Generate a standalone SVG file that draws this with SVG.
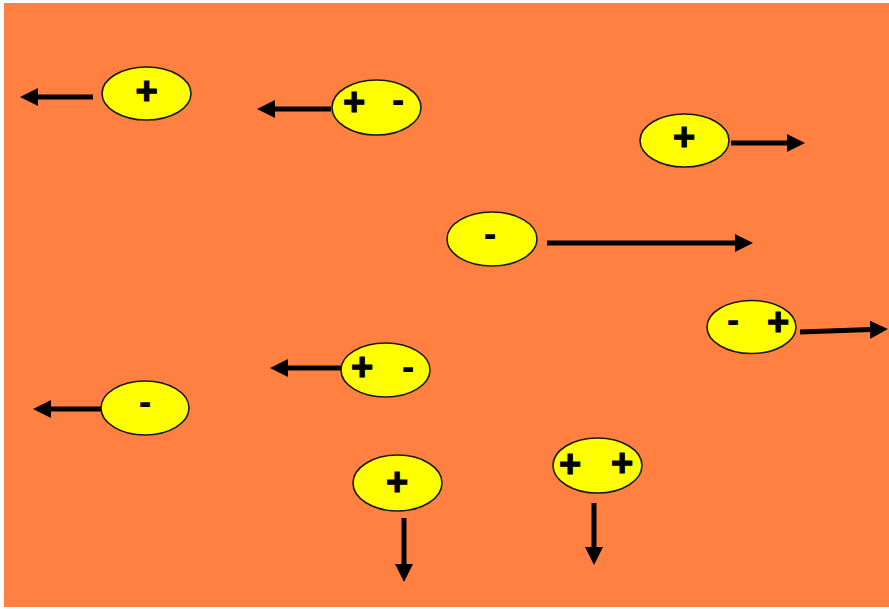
<svg xmlns="http://www.w3.org/2000/svg" width="889" height="609" viewBox="0 0 889 609">
  <defs>
    <marker id="head" markerUnits="userSpaceOnUse" markerWidth="19" markerHeight="19" refX="1" refY="9" orient="auto">
      <path d="M0,0 L18,9 L0,18 z" fill="#000"/>
    </marker>
    <style>
      .particle ellipse { fill: #FFFF00; stroke: #1a1a1a; stroke-width: 1.6; }
      .particle text { font-family: "Liberation Sans", Arial, sans-serif; font-weight: bold; font-size: 38px; fill: #000; text-anchor: middle; }
      .particle text.pos { stroke: #000; stroke-width: 1.2; }
      .arrow { stroke: #000; stroke-width: 5; fill: none; marker-end: url(#head); }
    </style>
  </defs>

  <rect width="889" height="609" fill="#FFFFFF"/>
  <rect x="4" y="3" width="885" height="604" fill="#FF8040"/>

  <!-- motion arrows -->
  <g id="connectors">
    <path class="arrow" d="M93,97 L37,97"/>
    <path class="arrow" d="M331,109 L274,109"/>
    <path class="arrow" d="M731,143 L788,143"/>
    <path class="arrow" d="M547,243 L736,243"/>
    <path class="arrow" d="M800,332 L871,329.6"/>
    <path class="arrow" d="M341,368 L287,368"/>
    <path class="arrow" d="M106,409 L50,409"/>
    <path class="arrow" d="M404,518 L404,565"/>
    <path class="arrow" d="M594,503 L594,548"/>
  </g>

  <!-- charged particles -->
  <g id="p1" class="particle">
    <ellipse cx="146.5" cy="93.5" rx="44.5" ry="26.5"/>
    <text class="pos" x="146.5" y="103.5">+</text>
  </g>
  <g id="p2" class="particle">
    <ellipse cx="376.5" cy="107.5" rx="44.5" ry="27.5"/>
    <text class="pos" x="354" y="115">+</text>
    <text x="398" y="112.5">-</text>
  </g>
  <g id="p3" class="particle">
    <ellipse cx="684.5" cy="140.5" rx="44.5" ry="26.5"/>
    <text class="pos" x="684" y="150">+</text>
  </g>
  <g id="p4" class="particle">
    <ellipse cx="492" cy="239" rx="45" ry="27"/>
    <text x="490" y="246.5">-</text>
  </g>
  <g id="p5" class="particle">
    <ellipse cx="751.5" cy="327" rx="44.5" ry="26.5"/>
    <text x="733" y="332.5">-</text>
    <text class="pos" x="778" y="335">+</text>
  </g>
  <g id="p6" class="particle">
    <ellipse cx="385.5" cy="370" rx="44.5" ry="27"/>
    <text class="pos" x="362" y="380">+</text>
    <text x="408" y="379.5">-</text>
  </g>
  <g id="p7" class="particle">
    <ellipse cx="145" cy="408" rx="44" ry="27"/>
    <text x="145" y="414.5">-</text>
  </g>
  <g id="p8" class="particle">
    <ellipse cx="397.5" cy="483" rx="44.5" ry="28"/>
    <text class="pos" x="397" y="495">+</text>
  </g>
  <g id="p9" class="particle">
    <ellipse cx="597.5" cy="465.5" rx="44.5" ry="27.5"/>
    <text class="pos" x="570" y="477">+</text>
    <text class="pos" x="622" y="476">+</text>
  </g>
</svg>
